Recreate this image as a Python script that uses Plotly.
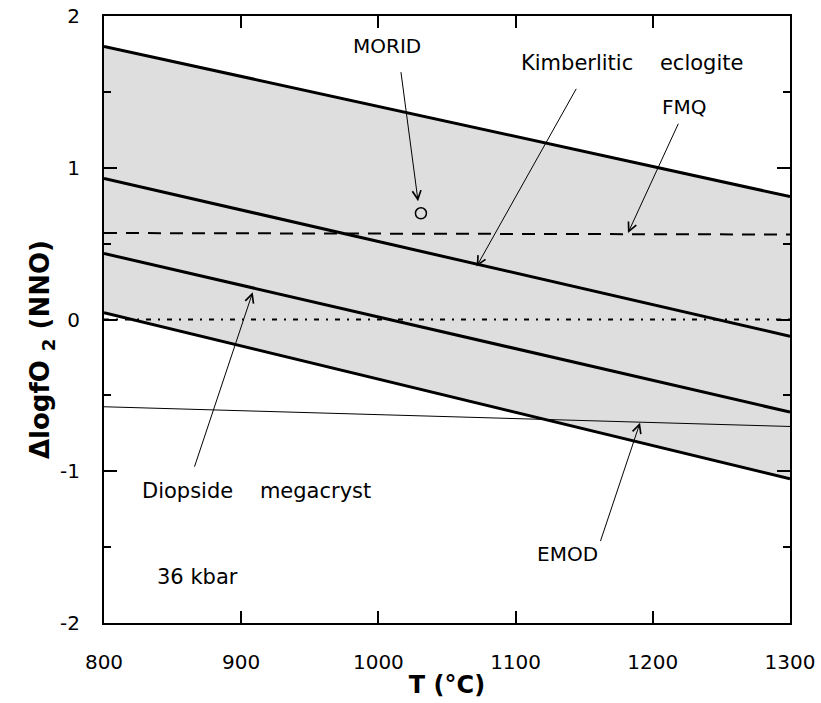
import plotly.graph_objects as go

# ---- data ----
T_ends = [800, 1300]
upper_bound = [1.80, 0.81]        # top of shaded field
kimberlitic = [0.93, -0.11]       # Kimberlitic eclogite
diopside = [0.435, -0.61]         # Diopside megacryst
lower_bound = [0.045, -1.05]      # bottom of shaded field
fmq = [0.57, 0.56]                # FMQ buffer (dashed)
nno = [0.0, 0.0]                  # NNO reference (dotted)
emod = [-0.575, -0.705]           # EMOD buffer (thin)
morid_T = [1031]
morid_f = [0.70]

x_ticks = [800, 900, 1000, 1100, 1200, 1300]
y_ticks = [-2, -1, 0, 1, 2]
y_ticktext = [str(v) for v in y_ticks]   # plain hyphen minus as in the reference

FONT = "DejaVu Sans"

fig = go.Figure()

# shaded band
fig.add_trace(go.Scatter(x=T_ends, y=lower_bound, mode="lines",
                         line=dict(color="black", width=3), showlegend=False,
                         hoverinfo="skip"))
fig.add_trace(go.Scatter(x=T_ends, y=upper_bound, mode="lines", fill="tonexty",
                         fillcolor="rgb(222,222,222)",
                         line=dict(color="black", width=3), showlegend=False,
                         hoverinfo="skip"))
fig.add_trace(go.Scatter(x=T_ends, y=kimberlitic, mode="lines",
                         line=dict(color="black", width=3), showlegend=False))
fig.add_trace(go.Scatter(x=T_ends, y=diopside, mode="lines",
                         line=dict(color="black", width=3), showlegend=False))
fig.add_trace(go.Scatter(x=T_ends, y=fmq, mode="lines",
                         line=dict(color="black", width=2, dash="13px,9px"),
                         showlegend=False))
fig.add_trace(go.Scatter(x=T_ends, y=nno, mode="lines",
                         line=dict(color="black", width=2, dash="5px,7px,2px,7px"),
                         showlegend=False))
fig.add_trace(go.Scatter(x=T_ends, y=emod, mode="lines",
                         line=dict(color="black", width=1), showlegend=False))
fig.add_trace(go.Scatter(x=morid_T, y=morid_f, mode="markers",
                         marker=dict(symbol="circle-open", size=11,
                                     color="black", line=dict(width=1.5)),
                         showlegend=False))


def arrow(head, tail):
    fig.add_annotation(x=head[0], y=head[1], ax=tail[0], ay=tail[1],
                       xref="x", yref="y", axref="x", ayref="y", text="",
                       showarrow=True, arrowhead=5, arrowsize=1.7,
                       arrowwidth=1, arrowcolor="black")


def label(x, y, text, size):
    fig.add_annotation(x=x, y=y, xref="x", yref="y", text=text,
                       showarrow=False, font=dict(family=FONT, size=size,
                                                  color="black"))


arrow((1028.9, 0.78), (1016.3, 1.64))
arrow((1071.6, 0.35), (1144.8, 1.53))
arrow((1181.9, 0.57), (1219.1, 1.30))
arrow((908.4, 0.18), (865.6, -0.98))
arrow((1190.7, -0.68), (1161.5, -1.47))

label(1006, 1.80, "MORID", 20)
label(1185, 1.69, "Kimberlitic\u00a0\u00a0\u00a0\u00a0eclogite", 21)
label(1223, 1.40, "FMQ", 20)
label(911, -1.13, "Diopside\u00a0\u00a0\u00a0\u00a0megacryst", 21)
label(1138, -1.545, "EMOD", 20)
label(868, -1.70, "36 kbar", 21)

# y-axis title (placed as rotated text)
fig.add_annotation(x=-0.09, y=0.45, xref="paper", yref="paper",
                   text="<b>ΔlogfO <sub>2</sub> (NNO)</b>", textangle=-90,
                   showarrow=False, xanchor="center", yanchor="middle",
                   font=dict(family=FONT, size=26, color="black"))

axis_common = dict(showline=True, linecolor="black", linewidth=2, mirror="ticks",
                   ticks="inside", tickcolor="black", tickwidth=2,
                   showgrid=False, zeroline=False, automargin=False,
                   tickfont=dict(family=FONT, size=20, color="black"))

fig.update_xaxes(range=[800, 1300], tickvals=x_ticks, ticklen=12,
                 ticklabelstandoff=20,
                 title=dict(text="<b>T (°C)</b>",
                            font=dict(family=FONT, size=24, color="black"),
                            standoff=3),
                 **axis_common)
fig.update_yaxes(range=[-2, 2], tickvals=y_ticks, ticktext=y_ticktext,
                 ticklen=13, ticklabelstandoff=18,
                 minor=dict(dtick=0.5, ticks="inside", ticklen=7,
                            tickcolor="black", tickwidth=2, showgrid=False),
                 **axis_common)

fig.update_layout(width=821, height=703,
                  margin=dict(l=104, r=31, t=16, b=80),
                  paper_bgcolor="white", plot_bgcolor="white")

fig.write_html("out.html")
